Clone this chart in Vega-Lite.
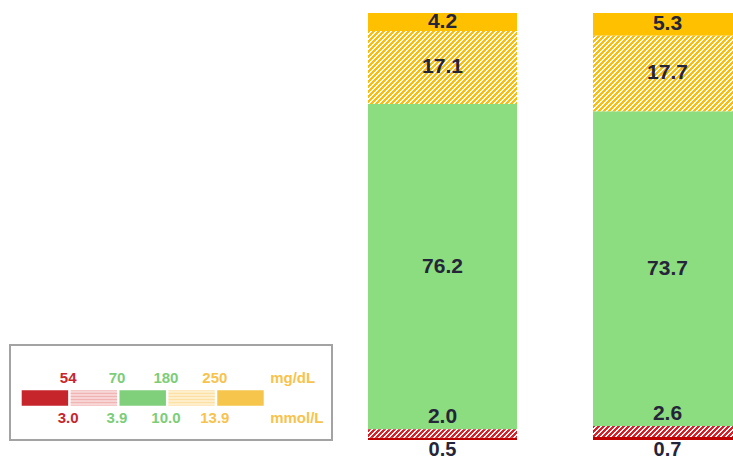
{
  "$schema": "https://vega.github.io/schema/vega-lite/v6.json",
  "width": 733,
  "height": 460,
  "padding": 0,
  "autosize": {"type": "none"},
  "background": "white",
  "config": {"view": {"stroke": null}, "font": "Liberation Sans"},
  "datasets": {
    "glucose": [
      {"period": "Period A", "category": "Very Low", "pct": 0.5},
      {"period": "Period A", "category": "Low", "pct": 2.0},
      {"period": "Period A", "category": "In Range", "pct": 76.2},
      {"period": "Period A", "category": "High", "pct": 17.1},
      {"period": "Period A", "category": "Very High", "pct": 4.2},
      {"period": "Period B", "category": "Very Low", "pct": 0.7},
      {"period": "Period B", "category": "Low", "pct": 2.6},
      {"period": "Period B", "category": "In Range", "pct": 73.7},
      {"period": "Period B", "category": "High", "pct": 17.7},
      {"period": "Period B", "category": "Very High", "pct": 5.3}
    ],
    "zones": [
      {"band": "Very Low"},
      {"band": "Low"},
      {"band": "In Range"},
      {"band": "High"},
      {"band": "Very High"}
    ],
    "thresholds": [
      {"band": "Very Low", "mgdl": "54", "mmol": "3.0", "zone": "low"},
      {"band": "Low", "mgdl": "70", "mmol": "3.9", "zone": "target"},
      {"band": "In Range", "mgdl": "180", "mmol": "10.0", "zone": "target"},
      {"band": "High", "mgdl": "250", "mmol": "13.9", "zone": "high"}
    ],
    "units": [{"row": "mg/dL"}, {"row": "mmol/L"}],
    "frame": [{"box": "legend"}]
  },
  "resolve": {"scale": {"x": "independent", "y": "independent"}},
  "layer": [
    {
      "data": {"name": "glucose"},
      "transform": [
        {"calculate": "indexof(['Very Low','Low','In Range','High','Very High'], datum.category)", "as": "rank"},
        {"stack": "pct", "groupby": ["period"], "sort": [{"field": "rank", "order": "ascending"}], "as": ["y0", "y1"]},
        {"calculate": "(datum.y0 + datum.y1) / 2", "as": "mid"}
      ],
      "encoding": {
        "x": {"field": "period", "type": "nominal", "axis": null,
          "scale": {"domain": ["Period A", "Period B"], "range": [368, 742], "paddingInner": 0.337778, "paddingOuter": 0}},
        "y": {"field": "y1", "type": "quantitative", "axis": null, "scale": {"domain": [0, 100], "range": [440, 13], "nice": false, "zero": false}},
        "y2": {"field": "y0"}
      },
      "layer": [
        {
          "transform": [{"filter": {"field": "category", "oneOf": ["Very Low", "In Range", "Very High"]}}],
          "mark": {"type": "bar", "clip": true},
          "encoding": {
            "color": {"condition": [
              {"test": "datum.category === 'Very Low'", "value": "#c00000"},
              {"test": "datum.category === 'In Range'", "value": "#8cdc80"}
            ], "value": "#ffc000"}
          }
        },
        {
          "transform": [{"filter": "datum.category === 'High' && datum.period === 'Period A'"}],
          "mark": {"type": "bar", "clip": true, "color": {"gradient": "linear", "x1": 0, "y1": 0, "x2": 1.352946, "y2": 0.663007, "stops": [
{"offset":0,"color":"#fcbc0c"},{"offset":0.012,"color":"#fcbc0c"},{"offset":0.012,"color":"#fff"},{"offset":0.02,"color":"#fff"},
{"offset":0.02,"color":"#fcbc0c"},{"offset":0.032,"color":"#fcbc0c"},{"offset":0.032,"color":"#fff"},{"offset":0.04,"color":"#fff"},
{"offset":0.04,"color":"#fcbc0c"},{"offset":0.052,"color":"#fcbc0c"},{"offset":0.052,"color":"#fff"},{"offset":0.06,"color":"#fff"},
{"offset":0.06,"color":"#fcbc0c"},{"offset":0.072,"color":"#fcbc0c"},{"offset":0.072,"color":"#fff"},{"offset":0.08,"color":"#fff"},
{"offset":0.08,"color":"#fcbc0c"},{"offset":0.092,"color":"#fcbc0c"},{"offset":0.092,"color":"#fff"},{"offset":0.1,"color":"#fff"},
{"offset":0.1,"color":"#fcbc0c"},{"offset":0.112,"color":"#fcbc0c"},{"offset":0.112,"color":"#fff"},{"offset":0.12,"color":"#fff"},
{"offset":0.12,"color":"#fcbc0c"},{"offset":0.132,"color":"#fcbc0c"},{"offset":0.132,"color":"#fff"},{"offset":0.14,"color":"#fff"},
{"offset":0.14,"color":"#fcbc0c"},{"offset":0.152,"color":"#fcbc0c"},{"offset":0.152,"color":"#fff"},{"offset":0.16,"color":"#fff"},
{"offset":0.16,"color":"#fcbc0c"},{"offset":0.172,"color":"#fcbc0c"},{"offset":0.172,"color":"#fff"},{"offset":0.18,"color":"#fff"},
{"offset":0.18,"color":"#fcbc0c"},{"offset":0.192,"color":"#fcbc0c"},{"offset":0.192,"color":"#fff"},{"offset":0.2,"color":"#fff"},
{"offset":0.2,"color":"#fcbc0c"},{"offset":0.212,"color":"#fcbc0c"},{"offset":0.212,"color":"#fff"},{"offset":0.22,"color":"#fff"},
{"offset":0.22,"color":"#fcbc0c"},{"offset":0.232,"color":"#fcbc0c"},{"offset":0.232,"color":"#fff"},{"offset":0.24,"color":"#fff"},
{"offset":0.24,"color":"#fcbc0c"},{"offset":0.252,"color":"#fcbc0c"},{"offset":0.252,"color":"#fff"},{"offset":0.26,"color":"#fff"},
{"offset":0.26,"color":"#fcbc0c"},{"offset":0.272,"color":"#fcbc0c"},{"offset":0.272,"color":"#fff"},{"offset":0.28,"color":"#fff"},
{"offset":0.28,"color":"#fcbc0c"},{"offset":0.292,"color":"#fcbc0c"},{"offset":0.292,"color":"#fff"},{"offset":0.3,"color":"#fff"},
{"offset":0.3,"color":"#fcbc0c"},{"offset":0.312,"color":"#fcbc0c"},{"offset":0.312,"color":"#fff"},{"offset":0.32,"color":"#fff"},
{"offset":0.32,"color":"#fcbc0c"},{"offset":0.332,"color":"#fcbc0c"},{"offset":0.332,"color":"#fff"},{"offset":0.34,"color":"#fff"},
{"offset":0.34,"color":"#fcbc0c"},{"offset":0.352,"color":"#fcbc0c"},{"offset":0.352,"color":"#fff"},{"offset":0.36,"color":"#fff"},
{"offset":0.36,"color":"#fcbc0c"},{"offset":0.372,"color":"#fcbc0c"},{"offset":0.372,"color":"#fff"},{"offset":0.38,"color":"#fff"},
{"offset":0.38,"color":"#fcbc0c"},{"offset":0.392,"color":"#fcbc0c"},{"offset":0.392,"color":"#fff"},{"offset":0.4,"color":"#fff"},
{"offset":0.4,"color":"#fcbc0c"},{"offset":0.412,"color":"#fcbc0c"},{"offset":0.412,"color":"#fff"},{"offset":0.42,"color":"#fff"},
{"offset":0.42,"color":"#fcbc0c"},{"offset":0.432,"color":"#fcbc0c"},{"offset":0.432,"color":"#fff"},{"offset":0.44,"color":"#fff"},
{"offset":0.44,"color":"#fcbc0c"},{"offset":0.452,"color":"#fcbc0c"},{"offset":0.452,"color":"#fff"},{"offset":0.46,"color":"#fff"},
{"offset":0.46,"color":"#fcbc0c"},{"offset":0.472,"color":"#fcbc0c"},{"offset":0.472,"color":"#fff"},{"offset":0.48,"color":"#fff"},
{"offset":0.48,"color":"#fcbc0c"},{"offset":0.492,"color":"#fcbc0c"},{"offset":0.492,"color":"#fff"},{"offset":0.5,"color":"#fff"},
{"offset":0.5,"color":"#fcbc0c"},{"offset":0.512,"color":"#fcbc0c"},{"offset":0.512,"color":"#fff"},{"offset":0.52,"color":"#fff"},
{"offset":0.52,"color":"#fcbc0c"},{"offset":0.532,"color":"#fcbc0c"},{"offset":0.532,"color":"#fff"},{"offset":0.54,"color":"#fff"},
{"offset":0.54,"color":"#fcbc0c"},{"offset":0.552,"color":"#fcbc0c"},{"offset":0.552,"color":"#fff"},{"offset":0.56,"color":"#fff"},
{"offset":0.56,"color":"#fcbc0c"},{"offset":0.572,"color":"#fcbc0c"},{"offset":0.572,"color":"#fff"},{"offset":0.58,"color":"#fff"},
{"offset":0.58,"color":"#fcbc0c"},{"offset":0.592,"color":"#fcbc0c"},{"offset":0.592,"color":"#fff"},{"offset":0.6,"color":"#fff"},
{"offset":0.6,"color":"#fcbc0c"},{"offset":0.612,"color":"#fcbc0c"},{"offset":0.612,"color":"#fff"},{"offset":0.62,"color":"#fff"},
{"offset":0.62,"color":"#fcbc0c"},{"offset":0.632,"color":"#fcbc0c"},{"offset":0.632,"color":"#fff"},{"offset":0.64,"color":"#fff"},
{"offset":0.64,"color":"#fcbc0c"},{"offset":0.652,"color":"#fcbc0c"},{"offset":0.652,"color":"#fff"},{"offset":0.66,"color":"#fff"},
{"offset":0.66,"color":"#fcbc0c"},{"offset":0.672,"color":"#fcbc0c"},{"offset":0.672,"color":"#fff"},{"offset":0.68,"color":"#fff"},
{"offset":0.68,"color":"#fcbc0c"},{"offset":0.692,"color":"#fcbc0c"},{"offset":0.692,"color":"#fff"},{"offset":0.7,"color":"#fff"},
{"offset":0.7,"color":"#fcbc0c"},{"offset":0.712,"color":"#fcbc0c"},{"offset":0.712,"color":"#fff"},{"offset":0.72,"color":"#fff"},
{"offset":0.72,"color":"#fcbc0c"},{"offset":0.732,"color":"#fcbc0c"},{"offset":0.732,"color":"#fff"},{"offset":0.74,"color":"#fff"},
{"offset":0.74,"color":"#fcbc0c"},{"offset":0.752,"color":"#fcbc0c"},{"offset":0.752,"color":"#fff"},{"offset":0.76,"color":"#fff"},
{"offset":0.76,"color":"#fcbc0c"},{"offset":0.772,"color":"#fcbc0c"},{"offset":0.772,"color":"#fff"},{"offset":0.78,"color":"#fff"},
{"offset":0.78,"color":"#fcbc0c"},{"offset":0.792,"color":"#fcbc0c"},{"offset":0.792,"color":"#fff"},{"offset":0.8,"color":"#fff"},
{"offset":0.8,"color":"#fcbc0c"},{"offset":0.812,"color":"#fcbc0c"},{"offset":0.812,"color":"#fff"},{"offset":0.82,"color":"#fff"},
{"offset":0.82,"color":"#fcbc0c"},{"offset":0.832,"color":"#fcbc0c"},{"offset":0.832,"color":"#fff"},{"offset":0.84,"color":"#fff"},
{"offset":0.84,"color":"#fcbc0c"},{"offset":0.852,"color":"#fcbc0c"},{"offset":0.852,"color":"#fff"},{"offset":0.86,"color":"#fff"},
{"offset":0.86,"color":"#fcbc0c"},{"offset":0.872,"color":"#fcbc0c"},{"offset":0.872,"color":"#fff"},{"offset":0.88,"color":"#fff"},
{"offset":0.88,"color":"#fcbc0c"},{"offset":0.892,"color":"#fcbc0c"},{"offset":0.892,"color":"#fff"},{"offset":0.9,"color":"#fff"}
          ]}}
        },
        {
          "transform": [{"filter": "datum.category === 'High' && datum.period === 'Period B'"}],
          "mark": {"type": "bar", "clip": true, "color": {"gradient": "linear", "x1": 0, "y1": 0, "x2": 1.334494, "y2": 0.676911, "stops": [
{"offset":0,"color":"#fcbc0c"},{"offset":0.012,"color":"#fcbc0c"},{"offset":0.012,"color":"#fff"},{"offset":0.02,"color":"#fff"},
{"offset":0.02,"color":"#fcbc0c"},{"offset":0.032,"color":"#fcbc0c"},{"offset":0.032,"color":"#fff"},{"offset":0.04,"color":"#fff"},
{"offset":0.04,"color":"#fcbc0c"},{"offset":0.052,"color":"#fcbc0c"},{"offset":0.052,"color":"#fff"},{"offset":0.06,"color":"#fff"},
{"offset":0.06,"color":"#fcbc0c"},{"offset":0.072,"color":"#fcbc0c"},{"offset":0.072,"color":"#fff"},{"offset":0.08,"color":"#fff"},
{"offset":0.08,"color":"#fcbc0c"},{"offset":0.092,"color":"#fcbc0c"},{"offset":0.092,"color":"#fff"},{"offset":0.1,"color":"#fff"},
{"offset":0.1,"color":"#fcbc0c"},{"offset":0.112,"color":"#fcbc0c"},{"offset":0.112,"color":"#fff"},{"offset":0.12,"color":"#fff"},
{"offset":0.12,"color":"#fcbc0c"},{"offset":0.132,"color":"#fcbc0c"},{"offset":0.132,"color":"#fff"},{"offset":0.14,"color":"#fff"},
{"offset":0.14,"color":"#fcbc0c"},{"offset":0.152,"color":"#fcbc0c"},{"offset":0.152,"color":"#fff"},{"offset":0.16,"color":"#fff"},
{"offset":0.16,"color":"#fcbc0c"},{"offset":0.172,"color":"#fcbc0c"},{"offset":0.172,"color":"#fff"},{"offset":0.18,"color":"#fff"},
{"offset":0.18,"color":"#fcbc0c"},{"offset":0.192,"color":"#fcbc0c"},{"offset":0.192,"color":"#fff"},{"offset":0.2,"color":"#fff"},
{"offset":0.2,"color":"#fcbc0c"},{"offset":0.212,"color":"#fcbc0c"},{"offset":0.212,"color":"#fff"},{"offset":0.22,"color":"#fff"},
{"offset":0.22,"color":"#fcbc0c"},{"offset":0.232,"color":"#fcbc0c"},{"offset":0.232,"color":"#fff"},{"offset":0.24,"color":"#fff"},
{"offset":0.24,"color":"#fcbc0c"},{"offset":0.252,"color":"#fcbc0c"},{"offset":0.252,"color":"#fff"},{"offset":0.26,"color":"#fff"},
{"offset":0.26,"color":"#fcbc0c"},{"offset":0.272,"color":"#fcbc0c"},{"offset":0.272,"color":"#fff"},{"offset":0.28,"color":"#fff"},
{"offset":0.28,"color":"#fcbc0c"},{"offset":0.292,"color":"#fcbc0c"},{"offset":0.292,"color":"#fff"},{"offset":0.3,"color":"#fff"},
{"offset":0.3,"color":"#fcbc0c"},{"offset":0.312,"color":"#fcbc0c"},{"offset":0.312,"color":"#fff"},{"offset":0.32,"color":"#fff"},
{"offset":0.32,"color":"#fcbc0c"},{"offset":0.332,"color":"#fcbc0c"},{"offset":0.332,"color":"#fff"},{"offset":0.34,"color":"#fff"},
{"offset":0.34,"color":"#fcbc0c"},{"offset":0.352,"color":"#fcbc0c"},{"offset":0.352,"color":"#fff"},{"offset":0.36,"color":"#fff"},
{"offset":0.36,"color":"#fcbc0c"},{"offset":0.372,"color":"#fcbc0c"},{"offset":0.372,"color":"#fff"},{"offset":0.38,"color":"#fff"},
{"offset":0.38,"color":"#fcbc0c"},{"offset":0.392,"color":"#fcbc0c"},{"offset":0.392,"color":"#fff"},{"offset":0.4,"color":"#fff"},
{"offset":0.4,"color":"#fcbc0c"},{"offset":0.412,"color":"#fcbc0c"},{"offset":0.412,"color":"#fff"},{"offset":0.42,"color":"#fff"},
{"offset":0.42,"color":"#fcbc0c"},{"offset":0.432,"color":"#fcbc0c"},{"offset":0.432,"color":"#fff"},{"offset":0.44,"color":"#fff"},
{"offset":0.44,"color":"#fcbc0c"},{"offset":0.452,"color":"#fcbc0c"},{"offset":0.452,"color":"#fff"},{"offset":0.46,"color":"#fff"},
{"offset":0.46,"color":"#fcbc0c"},{"offset":0.472,"color":"#fcbc0c"},{"offset":0.472,"color":"#fff"},{"offset":0.48,"color":"#fff"},
{"offset":0.48,"color":"#fcbc0c"},{"offset":0.492,"color":"#fcbc0c"},{"offset":0.492,"color":"#fff"},{"offset":0.5,"color":"#fff"},
{"offset":0.5,"color":"#fcbc0c"},{"offset":0.512,"color":"#fcbc0c"},{"offset":0.512,"color":"#fff"},{"offset":0.52,"color":"#fff"},
{"offset":0.52,"color":"#fcbc0c"},{"offset":0.532,"color":"#fcbc0c"},{"offset":0.532,"color":"#fff"},{"offset":0.54,"color":"#fff"},
{"offset":0.54,"color":"#fcbc0c"},{"offset":0.552,"color":"#fcbc0c"},{"offset":0.552,"color":"#fff"},{"offset":0.56,"color":"#fff"},
{"offset":0.56,"color":"#fcbc0c"},{"offset":0.572,"color":"#fcbc0c"},{"offset":0.572,"color":"#fff"},{"offset":0.58,"color":"#fff"},
{"offset":0.58,"color":"#fcbc0c"},{"offset":0.592,"color":"#fcbc0c"},{"offset":0.592,"color":"#fff"},{"offset":0.6,"color":"#fff"},
{"offset":0.6,"color":"#fcbc0c"},{"offset":0.612,"color":"#fcbc0c"},{"offset":0.612,"color":"#fff"},{"offset":0.62,"color":"#fff"},
{"offset":0.62,"color":"#fcbc0c"},{"offset":0.632,"color":"#fcbc0c"},{"offset":0.632,"color":"#fff"},{"offset":0.64,"color":"#fff"},
{"offset":0.64,"color":"#fcbc0c"},{"offset":0.652,"color":"#fcbc0c"},{"offset":0.652,"color":"#fff"},{"offset":0.66,"color":"#fff"},
{"offset":0.66,"color":"#fcbc0c"},{"offset":0.672,"color":"#fcbc0c"},{"offset":0.672,"color":"#fff"},{"offset":0.68,"color":"#fff"},
{"offset":0.68,"color":"#fcbc0c"},{"offset":0.692,"color":"#fcbc0c"},{"offset":0.692,"color":"#fff"},{"offset":0.7,"color":"#fff"},
{"offset":0.7,"color":"#fcbc0c"},{"offset":0.712,"color":"#fcbc0c"},{"offset":0.712,"color":"#fff"},{"offset":0.72,"color":"#fff"},
{"offset":0.72,"color":"#fcbc0c"},{"offset":0.732,"color":"#fcbc0c"},{"offset":0.732,"color":"#fff"},{"offset":0.74,"color":"#fff"},
{"offset":0.74,"color":"#fcbc0c"},{"offset":0.752,"color":"#fcbc0c"},{"offset":0.752,"color":"#fff"},{"offset":0.76,"color":"#fff"},
{"offset":0.76,"color":"#fcbc0c"},{"offset":0.772,"color":"#fcbc0c"},{"offset":0.772,"color":"#fff"},{"offset":0.78,"color":"#fff"},
{"offset":0.78,"color":"#fcbc0c"},{"offset":0.792,"color":"#fcbc0c"},{"offset":0.792,"color":"#fff"},{"offset":0.8,"color":"#fff"},
{"offset":0.8,"color":"#fcbc0c"},{"offset":0.812,"color":"#fcbc0c"},{"offset":0.812,"color":"#fff"},{"offset":0.82,"color":"#fff"},
{"offset":0.82,"color":"#fcbc0c"},{"offset":0.832,"color":"#fcbc0c"},{"offset":0.832,"color":"#fff"},{"offset":0.84,"color":"#fff"},
{"offset":0.84,"color":"#fcbc0c"},{"offset":0.852,"color":"#fcbc0c"},{"offset":0.852,"color":"#fff"},{"offset":0.86,"color":"#fff"},
{"offset":0.86,"color":"#fcbc0c"},{"offset":0.872,"color":"#fcbc0c"},{"offset":0.872,"color":"#fff"},{"offset":0.88,"color":"#fff"},
{"offset":0.88,"color":"#fcbc0c"},{"offset":0.892,"color":"#fcbc0c"},{"offset":0.892,"color":"#fff"},{"offset":0.9,"color":"#fff"},
{"offset":0.9,"color":"#fcbc0c"},{"offset":0.912,"color":"#fcbc0c"},{"offset":0.912,"color":"#fff"},{"offset":0.92,"color":"#fff"}
          ]}}
        },
        {
          "transform": [{"filter": "datum.category === 'Low' && datum.period === 'Period A'"}],
          "mark": {"type": "bar", "clip": true, "color": {"gradient": "linear", "x1": 0, "y1": 0, "x2": 1.672359, "y2": 0.095852, "stops": [
{"offset":0,"color":"#dc1f26"},{"offset":0.012,"color":"#dc1f26"},{"offset":0.012,"color":"#fff"},{"offset":0.02,"color":"#fff"},
{"offset":0.02,"color":"#dc1f26"},{"offset":0.032,"color":"#dc1f26"},{"offset":0.032,"color":"#fff"},{"offset":0.04,"color":"#fff"},
{"offset":0.04,"color":"#dc1f26"},{"offset":0.052,"color":"#dc1f26"},{"offset":0.052,"color":"#fff"},{"offset":0.06,"color":"#fff"},
{"offset":0.06,"color":"#dc1f26"},{"offset":0.072,"color":"#dc1f26"},{"offset":0.072,"color":"#fff"},{"offset":0.08,"color":"#fff"},
{"offset":0.08,"color":"#dc1f26"},{"offset":0.092,"color":"#dc1f26"},{"offset":0.092,"color":"#fff"},{"offset":0.1,"color":"#fff"},
{"offset":0.1,"color":"#dc1f26"},{"offset":0.112,"color":"#dc1f26"},{"offset":0.112,"color":"#fff"},{"offset":0.12,"color":"#fff"},
{"offset":0.12,"color":"#dc1f26"},{"offset":0.132,"color":"#dc1f26"},{"offset":0.132,"color":"#fff"},{"offset":0.14,"color":"#fff"},
{"offset":0.14,"color":"#dc1f26"},{"offset":0.152,"color":"#dc1f26"},{"offset":0.152,"color":"#fff"},{"offset":0.16,"color":"#fff"},
{"offset":0.16,"color":"#dc1f26"},{"offset":0.172,"color":"#dc1f26"},{"offset":0.172,"color":"#fff"},{"offset":0.18,"color":"#fff"},
{"offset":0.18,"color":"#dc1f26"},{"offset":0.192,"color":"#dc1f26"},{"offset":0.192,"color":"#fff"},{"offset":0.2,"color":"#fff"},
{"offset":0.2,"color":"#dc1f26"},{"offset":0.212,"color":"#dc1f26"},{"offset":0.212,"color":"#fff"},{"offset":0.22,"color":"#fff"},
{"offset":0.22,"color":"#dc1f26"},{"offset":0.232,"color":"#dc1f26"},{"offset":0.232,"color":"#fff"},{"offset":0.24,"color":"#fff"},
{"offset":0.24,"color":"#dc1f26"},{"offset":0.252,"color":"#dc1f26"},{"offset":0.252,"color":"#fff"},{"offset":0.26,"color":"#fff"},
{"offset":0.26,"color":"#dc1f26"},{"offset":0.272,"color":"#dc1f26"},{"offset":0.272,"color":"#fff"},{"offset":0.28,"color":"#fff"},
{"offset":0.28,"color":"#dc1f26"},{"offset":0.292,"color":"#dc1f26"},{"offset":0.292,"color":"#fff"},{"offset":0.3,"color":"#fff"},
{"offset":0.3,"color":"#dc1f26"},{"offset":0.312,"color":"#dc1f26"},{"offset":0.312,"color":"#fff"},{"offset":0.32,"color":"#fff"},
{"offset":0.32,"color":"#dc1f26"},{"offset":0.332,"color":"#dc1f26"},{"offset":0.332,"color":"#fff"},{"offset":0.34,"color":"#fff"},
{"offset":0.34,"color":"#dc1f26"},{"offset":0.352,"color":"#dc1f26"},{"offset":0.352,"color":"#fff"},{"offset":0.36,"color":"#fff"},
{"offset":0.36,"color":"#dc1f26"},{"offset":0.372,"color":"#dc1f26"},{"offset":0.372,"color":"#fff"},{"offset":0.38,"color":"#fff"},
{"offset":0.38,"color":"#dc1f26"},{"offset":0.392,"color":"#dc1f26"},{"offset":0.392,"color":"#fff"},{"offset":0.4,"color":"#fff"},
{"offset":0.4,"color":"#dc1f26"},{"offset":0.412,"color":"#dc1f26"},{"offset":0.412,"color":"#fff"},{"offset":0.42,"color":"#fff"},
{"offset":0.42,"color":"#dc1f26"},{"offset":0.432,"color":"#dc1f26"},{"offset":0.432,"color":"#fff"},{"offset":0.44,"color":"#fff"},
{"offset":0.44,"color":"#dc1f26"},{"offset":0.452,"color":"#dc1f26"},{"offset":0.452,"color":"#fff"},{"offset":0.46,"color":"#fff"},
{"offset":0.46,"color":"#dc1f26"},{"offset":0.472,"color":"#dc1f26"},{"offset":0.472,"color":"#fff"},{"offset":0.48,"color":"#fff"},
{"offset":0.48,"color":"#dc1f26"},{"offset":0.492,"color":"#dc1f26"},{"offset":0.492,"color":"#fff"},{"offset":0.5,"color":"#fff"},
{"offset":0.5,"color":"#dc1f26"},{"offset":0.512,"color":"#dc1f26"},{"offset":0.512,"color":"#fff"},{"offset":0.52,"color":"#fff"},
{"offset":0.52,"color":"#dc1f26"},{"offset":0.532,"color":"#dc1f26"},{"offset":0.532,"color":"#fff"},{"offset":0.54,"color":"#fff"},
{"offset":0.54,"color":"#dc1f26"},{"offset":0.552,"color":"#dc1f26"},{"offset":0.552,"color":"#fff"},{"offset":0.56,"color":"#fff"},
{"offset":0.56,"color":"#dc1f26"},{"offset":0.572,"color":"#dc1f26"},{"offset":0.572,"color":"#fff"},{"offset":0.58,"color":"#fff"},
{"offset":0.58,"color":"#dc1f26"},{"offset":0.592,"color":"#dc1f26"},{"offset":0.592,"color":"#fff"},{"offset":0.6,"color":"#fff"},
{"offset":0.6,"color":"#dc1f26"},{"offset":0.612,"color":"#dc1f26"},{"offset":0.612,"color":"#fff"},{"offset":0.62,"color":"#fff"},
{"offset":0.62,"color":"#dc1f26"},{"offset":0.632,"color":"#dc1f26"},{"offset":0.632,"color":"#fff"},{"offset":0.64,"color":"#fff"},
{"offset":0.64,"color":"#dc1f26"},{"offset":0.652,"color":"#dc1f26"},{"offset":0.652,"color":"#fff"},{"offset":0.66,"color":"#fff"}
          ]}}
        },
        {
          "transform": [{"filter": "datum.category === 'Low' && datum.period === 'Period B'"}],
          "mark": {"type": "bar", "clip": true, "color": {"gradient": "linear", "x1": 0, "y1": 0, "x2": 1.668589, "y2": 0.124327, "stops": [
{"offset":0,"color":"#dc1f26"},{"offset":0.012,"color":"#dc1f26"},{"offset":0.012,"color":"#fff"},{"offset":0.02,"color":"#fff"},
{"offset":0.02,"color":"#dc1f26"},{"offset":0.032,"color":"#dc1f26"},{"offset":0.032,"color":"#fff"},{"offset":0.04,"color":"#fff"},
{"offset":0.04,"color":"#dc1f26"},{"offset":0.052,"color":"#dc1f26"},{"offset":0.052,"color":"#fff"},{"offset":0.06,"color":"#fff"},
{"offset":0.06,"color":"#dc1f26"},{"offset":0.072,"color":"#dc1f26"},{"offset":0.072,"color":"#fff"},{"offset":0.08,"color":"#fff"},
{"offset":0.08,"color":"#dc1f26"},{"offset":0.092,"color":"#dc1f26"},{"offset":0.092,"color":"#fff"},{"offset":0.1,"color":"#fff"},
{"offset":0.1,"color":"#dc1f26"},{"offset":0.112,"color":"#dc1f26"},{"offset":0.112,"color":"#fff"},{"offset":0.12,"color":"#fff"},
{"offset":0.12,"color":"#dc1f26"},{"offset":0.132,"color":"#dc1f26"},{"offset":0.132,"color":"#fff"},{"offset":0.14,"color":"#fff"},
{"offset":0.14,"color":"#dc1f26"},{"offset":0.152,"color":"#dc1f26"},{"offset":0.152,"color":"#fff"},{"offset":0.16,"color":"#fff"},
{"offset":0.16,"color":"#dc1f26"},{"offset":0.172,"color":"#dc1f26"},{"offset":0.172,"color":"#fff"},{"offset":0.18,"color":"#fff"},
{"offset":0.18,"color":"#dc1f26"},{"offset":0.192,"color":"#dc1f26"},{"offset":0.192,"color":"#fff"},{"offset":0.2,"color":"#fff"},
{"offset":0.2,"color":"#dc1f26"},{"offset":0.212,"color":"#dc1f26"},{"offset":0.212,"color":"#fff"},{"offset":0.22,"color":"#fff"},
{"offset":0.22,"color":"#dc1f26"},{"offset":0.232,"color":"#dc1f26"},{"offset":0.232,"color":"#fff"},{"offset":0.24,"color":"#fff"},
{"offset":0.24,"color":"#dc1f26"},{"offset":0.252,"color":"#dc1f26"},{"offset":0.252,"color":"#fff"},{"offset":0.26,"color":"#fff"},
{"offset":0.26,"color":"#dc1f26"},{"offset":0.272,"color":"#dc1f26"},{"offset":0.272,"color":"#fff"},{"offset":0.28,"color":"#fff"},
{"offset":0.28,"color":"#dc1f26"},{"offset":0.292,"color":"#dc1f26"},{"offset":0.292,"color":"#fff"},{"offset":0.3,"color":"#fff"},
{"offset":0.3,"color":"#dc1f26"},{"offset":0.312,"color":"#dc1f26"},{"offset":0.312,"color":"#fff"},{"offset":0.32,"color":"#fff"},
{"offset":0.32,"color":"#dc1f26"},{"offset":0.332,"color":"#dc1f26"},{"offset":0.332,"color":"#fff"},{"offset":0.34,"color":"#fff"},
{"offset":0.34,"color":"#dc1f26"},{"offset":0.352,"color":"#dc1f26"},{"offset":0.352,"color":"#fff"},{"offset":0.36,"color":"#fff"},
{"offset":0.36,"color":"#dc1f26"},{"offset":0.372,"color":"#dc1f26"},{"offset":0.372,"color":"#fff"},{"offset":0.38,"color":"#fff"},
{"offset":0.38,"color":"#dc1f26"},{"offset":0.392,"color":"#dc1f26"},{"offset":0.392,"color":"#fff"},{"offset":0.4,"color":"#fff"},
{"offset":0.4,"color":"#dc1f26"},{"offset":0.412,"color":"#dc1f26"},{"offset":0.412,"color":"#fff"},{"offset":0.42,"color":"#fff"},
{"offset":0.42,"color":"#dc1f26"},{"offset":0.432,"color":"#dc1f26"},{"offset":0.432,"color":"#fff"},{"offset":0.44,"color":"#fff"},
{"offset":0.44,"color":"#dc1f26"},{"offset":0.452,"color":"#dc1f26"},{"offset":0.452,"color":"#fff"},{"offset":0.46,"color":"#fff"},
{"offset":0.46,"color":"#dc1f26"},{"offset":0.472,"color":"#dc1f26"},{"offset":0.472,"color":"#fff"},{"offset":0.48,"color":"#fff"},
{"offset":0.48,"color":"#dc1f26"},{"offset":0.492,"color":"#dc1f26"},{"offset":0.492,"color":"#fff"},{"offset":0.5,"color":"#fff"},
{"offset":0.5,"color":"#dc1f26"},{"offset":0.512,"color":"#dc1f26"},{"offset":0.512,"color":"#fff"},{"offset":0.52,"color":"#fff"},
{"offset":0.52,"color":"#dc1f26"},{"offset":0.532,"color":"#dc1f26"},{"offset":0.532,"color":"#fff"},{"offset":0.54,"color":"#fff"},
{"offset":0.54,"color":"#dc1f26"},{"offset":0.552,"color":"#dc1f26"},{"offset":0.552,"color":"#fff"},{"offset":0.56,"color":"#fff"},
{"offset":0.56,"color":"#dc1f26"},{"offset":0.572,"color":"#dc1f26"},{"offset":0.572,"color":"#fff"},{"offset":0.58,"color":"#fff"},
{"offset":0.58,"color":"#dc1f26"},{"offset":0.592,"color":"#dc1f26"},{"offset":0.592,"color":"#fff"},{"offset":0.6,"color":"#fff"},
{"offset":0.6,"color":"#dc1f26"},{"offset":0.612,"color":"#dc1f26"},{"offset":0.612,"color":"#fff"},{"offset":0.62,"color":"#fff"},
{"offset":0.62,"color":"#dc1f26"},{"offset":0.632,"color":"#dc1f26"},{"offset":0.632,"color":"#fff"},{"offset":0.64,"color":"#fff"},
{"offset":0.64,"color":"#dc1f26"},{"offset":0.652,"color":"#dc1f26"},{"offset":0.652,"color":"#fff"},{"offset":0.66,"color":"#fff"}
          ]}}
        },
        {
          "transform": [{"filter": {"field": "category", "oneOf": ["In Range", "High", "Very High"]}}],
          "mark": {"type": "text", "font": "Liberation Sans", "fontWeight": "bold", "fontSize": 21, "color": "#25253a", "baseline": "middle", "align": "center"},
          "encoding": {
            "y": {"field": "mid", "type": "quantitative"},
            "y2": null,
            "text": {"field": "pct", "type": "quantitative", "format": ".1f"}
          }
        },
        {
          "transform": [{"filter": {"field": "category", "equal": "Low"}}],
          "mark": {"type": "text", "font": "Liberation Sans", "fontWeight": "bold", "fontSize": 21, "color": "#25253a", "baseline": "bottom", "align": "center", "dy": -2},
          "encoding": {
            "y": {"field": "y1", "type": "quantitative"},
            "y2": null,
            "text": {"field": "pct", "type": "quantitative", "format": ".1f"}
          }
        },
        {
          "transform": [{"filter": {"field": "category", "equal": "Very Low"}}],
          "mark": {"type": "text", "font": "Liberation Sans", "fontWeight": "bold", "fontSize": 20, "color": "#25253a", "baseline": "top", "align": "center", "dy": 0},
          "encoding": {
            "y": {"field": "y0", "type": "quantitative"},
            "y2": null,
            "text": {"field": "pct", "type": "quantitative", "format": ".1f"}
          }
        }
      ]
    },
    {
      "data": {"name": "frame"},
      "mark": {"type": "rect", "fill": "#ffffff", "stroke": "#a3a3a3", "strokeWidth": 2},
      "encoding": {
        "x": {"field": "box", "type": "nominal", "axis": null, "scale": {"domain": ["legend"], "range": [10, 332], "paddingInner": 0, "paddingOuter": 0}},
        "y": {"field": "box", "type": "nominal", "axis": null, "scale": {"domain": ["legend"], "range": [345, 440], "paddingInner": 0, "paddingOuter": 0}}
      }
    },
    {
      "layer": [
        {
          "data": {"name": "zones"},
          "transform": [{"filter": {"field": "band", "oneOf": ["Very Low", "In Range", "Very High"]}}],
          "mark": {"type": "rect"},
          "encoding": {
            "x": {"field": "band", "type": "nominal", "axis": null, "scale": {"domain": ["Very Low", "Low", "In Range", "High", "Very High", "Units"], "range": [21.7, 312.6], "paddingInner": 0.05, "paddingOuter": 0}},
            "y": {"datum": "swatch", "type": "nominal", "axis": null, "scale": {"domain": ["mg/dL", "swatch", "mmol/L"], "range": [370, 426], "paddingInner": 0.25, "paddingOuter": 0}},
            "color": {"condition": [
              {"test": "datum.band === 'Very Low'", "value": "#c6262b"},
              {"test": "datum.band === 'In Range'", "value": "#7fcf7b"}
            ], "value": "#f6c64c"}
          }
        },
        {
          "data": {"name": "zones"},
          "transform": [{"filter": {"field": "band", "equal": "Low"}}],
          "mark": {"type": "rect", "color": {"gradient": "linear", "x1": 0, "y1": 0, "x2": 0, "y2": 1, "stops": [
            {"offset": 0, "color": "#f0b2b2"}, {"offset": 0.1, "color": "#fbe4e4"}, {"offset": 0.2, "color": "#f0b2b2"}, {"offset": 0.3, "color": "#fbe4e4"},
            {"offset": 0.4, "color": "#f0b2b2"}, {"offset": 0.5, "color": "#fbe4e4"}, {"offset": 0.6, "color": "#f0b2b2"}, {"offset": 0.7, "color": "#fbe4e4"},
            {"offset": 0.8, "color": "#f0b2b2"}, {"offset": 0.9, "color": "#fbe4e4"}, {"offset": 1, "color": "#f0b2b2"}
          ]}},
          "encoding": {
            "x": {"field": "band", "type": "nominal", "axis": null},
            "y": {"datum": "swatch", "type": "nominal", "axis": null}
          }
        },
        {
          "data": {"name": "zones"},
          "transform": [{"filter": {"field": "band", "equal": "High"}}],
          "mark": {"type": "rect", "color": {"gradient": "linear", "x1": 0, "y1": 0, "x2": 0, "y2": 1, "stops": [
            {"offset": 0, "color": "#fce0a2"}, {"offset": 0.1, "color": "#fff4dc"}, {"offset": 0.2, "color": "#fce0a2"}, {"offset": 0.3, "color": "#fff4dc"},
            {"offset": 0.4, "color": "#fce0a2"}, {"offset": 0.5, "color": "#fff4dc"}, {"offset": 0.6, "color": "#fce0a2"}, {"offset": 0.7, "color": "#fff4dc"},
            {"offset": 0.8, "color": "#fce0a2"}, {"offset": 0.9, "color": "#fff4dc"}, {"offset": 1, "color": "#fce0a2"}
          ]}},
          "encoding": {
            "x": {"field": "band", "type": "nominal", "axis": null},
            "y": {"datum": "swatch", "type": "nominal", "axis": null}
          }
        },
        {
          "data": {"name": "thresholds"},
          "mark": {"type": "text", "font": "Liberation Sans", "fontWeight": "bold", "fontSize": 15, "baseline": "middle", "align": "center"},
          "encoding": {
            "x": {"field": "band", "type": "nominal", "axis": null, "bandPosition": 1},
            "y": {"datum": "mg/dL", "type": "nominal", "axis": null},
            "text": {"field": "mgdl"},
            "color": {"condition": [
              {"test": "datum.zone === 'low'", "value": "#c8262c"},
              {"test": "datum.zone === 'target'", "value": "#7ccd78"}
            ], "value": "#f7c34c"}
          }
        },
        {
          "data": {"name": "thresholds"},
          "mark": {"type": "text", "font": "Liberation Sans", "fontWeight": "bold", "fontSize": 15, "baseline": "middle", "align": "center"},
          "encoding": {
            "x": {"field": "band", "type": "nominal", "axis": null, "bandPosition": 1},
            "y": {"datum": "mmol/L", "type": "nominal", "axis": null},
            "text": {"field": "mmol"},
            "color": {"condition": [
              {"test": "datum.zone === 'low'", "value": "#c8262c"},
              {"test": "datum.zone === 'target'", "value": "#7ccd78"}
            ], "value": "#f7c34c"}
          }
        },
        {
          "data": {"name": "units"},
          "mark": {"type": "text", "font": "Liberation Sans", "fontWeight": "bold", "fontSize": 15, "baseline": "middle", "align": "left", "dx": 4, "color": "#f7c34c"},
          "encoding": {
            "x": {"datum": "Units", "type": "nominal", "axis": null, "bandPosition": 0},
            "y": {"field": "row", "type": "nominal", "axis": null},
            "text": {"field": "row"}
          }
        }
      ]
    }
  ]
}
